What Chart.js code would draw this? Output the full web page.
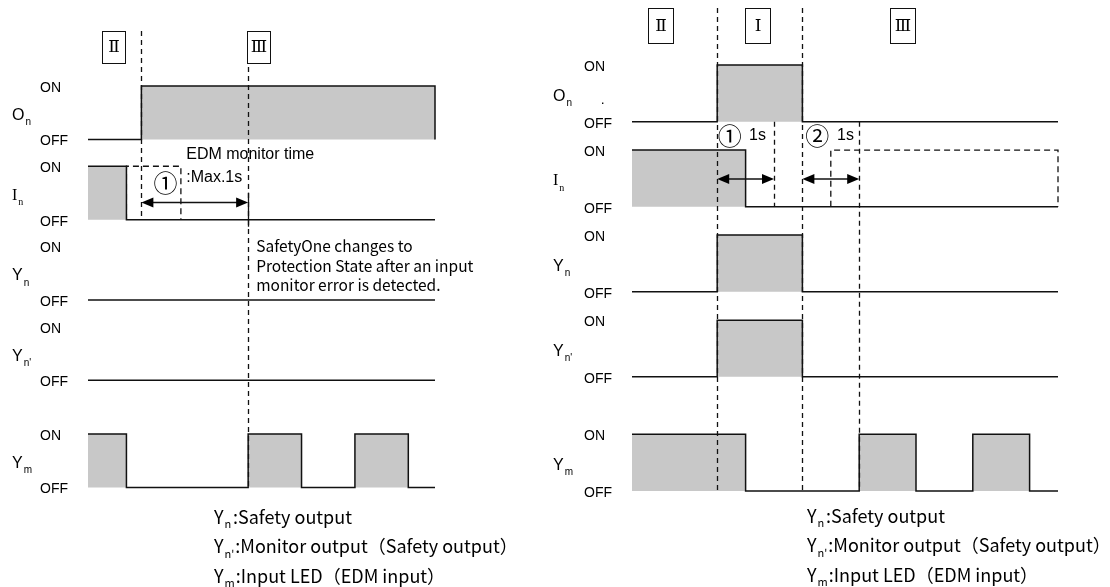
<!DOCTYPE html>
<html>
<head>
<meta charset="utf-8">
<script src="https://cdn.jsdelivr.net/npm/chart.js@4.4.0/dist/chart.umd.min.js"></script>
<style>
  html, body { margin: 0; padding: 0; background: #fff; }
  #wrap { position: relative; width: 1110px; height: 587px; overflow: hidden; }
  canvas { position: absolute; top: 0; }
  #left { left: 0; }
  #right { left: 545px; }
</style>
</head>
<body>
<div id="wrap">
  <canvas id="left" width="545" height="587"></canvas>
  <canvas id="right" width="565" height="587"></canvas>
</div>
<script>
// time is in seconds, 0 = moment the output O_n switches
const LANES = ["On", "In", "Yn", "Ynp", "Ym"];
const LANE_NAMES = [["O", "n"], ["I", "n"], ["Y", "n"], ["Y", "n'"], ["Y", "m"]];

// left diagram: EDM input does not follow -> error after max. 1s
const LEFT_RANGE = [-0.5, 2.75];
const LEFT_ON = [[0, 2.75]];
const LEFT_IN = [[-0.5, -0.14]];
const LEFT_IN_EXPECTED = [[-0.14, 0.37]];
const LEFT_YN = [];
const LEFT_YNP = [];
const LEFT_YM = [[-0.5, -0.14], [1, 1.5], [2, 2.5]];
const LEFT_GUIDES = [0, 1];
const LEFT_ARROWS = [[0, 1]];
const LEFT_PHASES = [["Ⅱ", -0.26], ["Ⅲ", 1.1]];

// right diagram: normal on/off sequence
const RIGHT_RANGE = [-1.5, 6];
const RIGHT_ON = [[0, 1.5]];
const RIGHT_IN = [[-1.5, 0.5]];
const RIGHT_IN_EXPECTED = [[2, 6]];
const RIGHT_YN = [[0, 1.5]];
const RIGHT_YNP = [[0, 1.5]];
const RIGHT_YM = [[-1.5, 0.5], [2.5, 3.5], [4.5, 5.5]];
const RIGHT_GUIDES = [0, 1.5, 2.5, 1];
const RIGHT_ARROWS = [[0, 1], [1.5, 2.5]];
const RIGHT_PHASES = [["Ⅱ", -1.0], ["Ⅰ", 0.71], ["Ⅲ", 3.27]];

const LEGEND = [
  ["Y", "n", ":Safety output"],
  ["Y", "n'", ":Monitor output（Safety output）"],
  ["Y", "m", ":Input LED（EDM input）"]
];

const FILL = "#c8c8c8";
const INK = "#111";
const SANS = "'Liberation Sans', Arial, sans-serif";
const GOTHIC = "'Noto Sans CJK JP', sans-serif";

const left = {
  range: LEFT_RANGE,
  signals: [LEFT_ON, LEFT_IN, LEFT_YN, LEFT_YNP, LEFT_YM],
  expected: LEFT_IN_EXPECTED,
  guides: LEFT_GUIDES,
  guideSpans: [["top", "In"], ["top", "Ym"]],
  arrows: LEFT_ARROWS,
  arrowAt: 0.32,
  phases: LEFT_PHASES,
  pad: { left: 88, right: 110, top: 72.6, bottom: 86.1 },
  laneMax: [1.25, 1.25, 1.25, 1.25, 1.755],
  phaseBox: { top: 31, w: 23, h: 32 },
  nameDx: 76,
  legend: { x: 214, y: 517 },
  notes: [
    { t: 0.42, lane: "In", v: 1.215, text: "EDM monitor time", font: "16px " + SANS },
    { t: 0.225, lane: "In", v: 0.68, text: "①", font: "24px " + GOTHIC, align: "center" },
    { t: 0.42, lane: "In", v: 0.785, text: ":Max.1s", font: "16px " + SANS },
    { t: 1.075, lane: "Yn", v: 1.01, text: "SafetyOne changes to", font: "15.5px " + GOTHIC },
    { t: 1.075, lane: "Yn", v: 0.64, text: "Protection State after an input", font: "15.5px " + GOTHIC },
    { t: 1.075, lane: "Yn", v: 0.27, text: "monitor error is detected.", font: "15.5px " + GOTHIC }
  ],
  solidTick: 1
};

const right = {
  range: RIGHT_RANGE,
  signals: [RIGHT_ON, RIGHT_IN, RIGHT_YN, RIGHT_YNP, RIGHT_YM],
  expected: RIGHT_IN_EXPECTED,
  guides: RIGHT_GUIDES,
  guideSpans: [["top", "Ym"], ["top", "Ym"], ["On", "Ym"], ["On", "In"]],
  arrows: RIGHT_ARROWS,
  arrowAt: 0.49,
  phases: RIGHT_PHASES,
  pad: { left: 87, right: 52, top: 50.8, bottom: 81.9 },
  laneMax: [1.25, 1.25, 1.25, 1.25, 1.762],
  phaseBox: { top: 8, w: 25, h: 35 },
  nameDx: 79,
  legend: { x: 262, y: 516 },
  notes: [
    { t: 0.22, lane: "In", v: 1.25, text: "①", font: "24px " + GOTHIC, align: "center" },
    { t: 0.56, lane: "In", v: 1.25, text: "1s", font: "16px " + SANS },
    { t: 1.76, lane: "In", v: 1.25, text: "②", font: "24px " + GOTHIC, align: "center" },
    { t: 2.11, lane: "In", v: 1.25, text: "1s", font: "16px " + SANS },
    { t: -2.05, lane: "On", v: 0.38, text: ".", font: "14px " + SANS }
  ],
  solidTick: null
};

function steps(onList, range) {
  const pts = [{ x: range[0], y: 0 }];
  onList.forEach(([a, b]) => {
    if (a <= range[0]) pts.length = 0;
    else pts.push({ x: a, y: 0 });
    pts.push({ x: a, y: 1 }, { x: b, y: 1 }, { x: b, y: 0 });
  });
  pts.push({ x: range[1], y: 0 });
  return pts;
}

function outline(onList) {
  const pts = [];
  onList.forEach(([a, b]) => pts.push({ x: a, y: 0 }, { x: a, y: 1 }, { x: b, y: 1 }, { x: b, y: 0 }));
  return pts;
}

function arrowHead(ctx, x, y, dir) {
  ctx.beginPath();
  ctx.moveTo(x, y);
  ctx.lineTo(x - dir * 12, y - 5);
  ctx.lineTo(x - dir * 12, y + 5);
  ctx.closePath();
  ctx.fill();
}

function subLabel(ctx, x, y, main, sub, font, size, subSize) {
  ctx.font = size + "px " + font;
  ctx.fillText(main, x, y);
  const w = ctx.measureText(main).width;
  ctx.font = subSize + "px " + font;
  ctx.fillText(sub, x + w + 1, y + 7);
  return w + 1 + ctx.measureText(sub).width;
}

function makeDecor(side) {
  return {
    id: "decor",
    afterDatasetsDraw(chart) {
      const ctx = chart.ctx;
      const area = chart.chartArea;
      const px = t => chart.scales.x.getPixelForValue(t);
      const py = (lane, v) => chart.scales[lane].getPixelForValue(v);
      ctx.save();
      ctx.fillStyle = "#000";
      ctx.strokeStyle = INK;

      // lane names and ON / OFF
      ctx.textBaseline = "middle";
      ctx.textAlign = "left";
      LANES.forEach((id, i) => {
        ctx.font = "14px " + SANS;
        ctx.fillText("ON", area.left - 48, py(id, 1) + 2);
        ctx.fillText("OFF", area.left - 48, py(id, 0) + 2);
        const [main, sub] = LANE_NAMES[i];
        const font = main === "I" ? "'Liberation Serif', serif" : SANS;
        subLabel(ctx, area.left - side.nameDx, py(id, 0.45), main, sub, font, 16, 10);
      });

      // dashed guides
      ctx.setLineDash([5, 4]);
      ctx.lineWidth = 1.3;
      side.guides.forEach((t, i) => {
        const [from, to] = side.guideSpans[i];
        const y0 = from === "top" ? side.phaseBox.top : py(from, 0);
        const x = Math.round(px(t)) + 0.5;
        ctx.beginPath();
        ctx.moveTo(x, y0);
        ctx.lineTo(x, py(to, 0));
        ctx.stroke();
      });
      ctx.setLineDash([]);

      // phase boxes
      ctx.lineWidth = 1;
      ctx.textAlign = "center";
      side.phases.forEach(([txt, t]) => {
        const b = side.phaseBox;
        const x = Math.round(px(t) - b.w / 2) + 0.5;
        ctx.fillStyle = "#fff";
        ctx.fillRect(x, b.top + 0.5, b.w, b.h);
        ctx.strokeRect(x, b.top + 0.5, b.w, b.h);
        ctx.fillStyle = "#000";
        ctx.font = "17px 'DejaVu Serif', serif";
        ctx.fillText(txt, x + b.w / 2, b.top + b.h / 2 + 1);
      });

      // time arrows
      ctx.lineWidth = 1.5;
      side.arrows.forEach(([a, b]) => {
        const y = py("In", side.arrowAt);
        const x1 = px(a), x2 = px(b);
        ctx.beginPath();
        ctx.moveTo(x1 + 4, y);
        ctx.lineTo(x2 - 4, y);
        ctx.stroke();
        arrowHead(ctx, x1, y, -1);
        arrowHead(ctx, x2, y, 1);
      });
      if (side.solidTick !== null) {
        const x = Math.round(px(side.solidTick)) + 0.5;
        ctx.lineWidth = 1.3;
        ctx.beginPath();
        ctx.moveTo(x, py("In", side.arrowAt) - 10);
        ctx.lineTo(x, py("In", 0) + 7);
        ctx.stroke();
      }

      // notes
      side.notes.forEach(n => {
        ctx.font = n.font;
        ctx.textAlign = n.align || "left";
        ctx.fillText(n.text, px(n.t), py(n.lane, n.v));
      });

      // legend
      ctx.textAlign = "left";
      LEGEND.forEach(([main, sub, rest], i) => {
        const y = side.legend.y + i * 29.5;
        const w = subLabel(ctx, side.legend.x, y, main, sub, GOTHIC, 18, 11);
        ctx.font = "18px " + GOTHIC;
        ctx.fillText(rest, side.legend.x + Math.max(w, 18) + 1, y);
      });
      ctx.restore();
    }
  };
}

function build(canvasId, side) {
  const scales = {
    x: { type: "linear", min: side.range[0], max: side.range[1], display: false }
  };
  // stacked left axes: the last one defined ends up on top
  for (let i = LANES.length - 1; i >= 0; i--) {
    scales[LANES[i]] = {
      type: "linear", position: "left", stack: "lanes",
      min: -0.25, max: side.laneMax[i],
      stackWeight: side.laneMax[i] + 0.25,
      display: false
    };
  }
  const datasets = LANES.map((id, i) => ({
    data: steps(side.signals[i], side.range),
    yAxisID: id,
    borderColor: INK,
    borderWidth: 1.5,
    backgroundColor: FILL,
    fill: { value: 0 },
    pointRadius: 0,
    borderJoinStyle: "miter",
    clip: false
  }));
  datasets.push({
    data: outline(side.expected),
    yAxisID: "In",
    borderColor: INK,
    borderWidth: 1.3,
    borderDash: [6, 4],
    fill: false,
    pointRadius: 0,
    clip: false
  });
  return new Chart(document.getElementById(canvasId), {
    type: "line",
    data: { datasets },
    options: {
      responsive: false,
      animation: false,
      devicePixelRatio: 1,
      events: [],
      layout: { padding: side.pad },
      plugins: { legend: { display: false }, tooltip: { enabled: false } },
      scales
    },
    plugins: [makeDecor(side)]
  });
}

build("left", left);
build("right", right);
</script>
</body>
</html>
